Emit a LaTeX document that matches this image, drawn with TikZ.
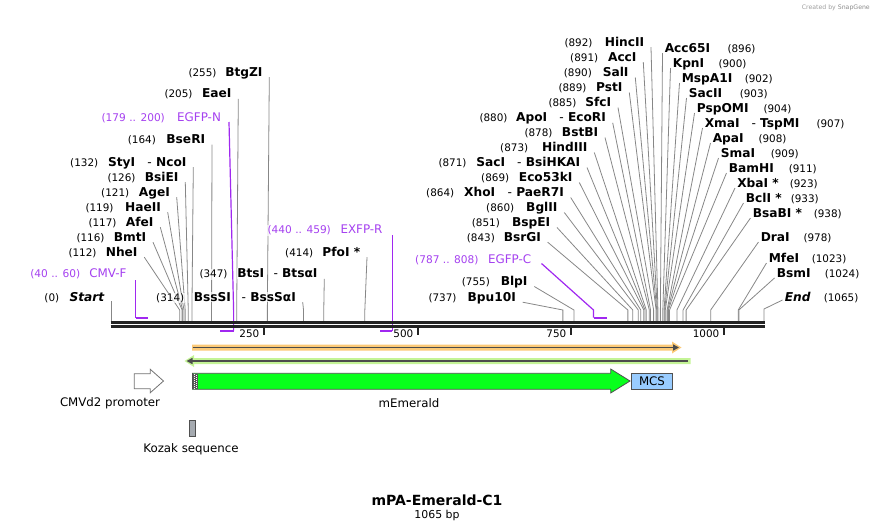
\documentclass[tikz,border=0pt]{standalone}
\usepackage{fontspec}
\setmainfont{DejaVu Sans}
\usetikzlibrary{arrows.meta,backgrounds}
\definecolor{primc}{RGB}{160,40,240}
\definecolor{primt}{RGB}{165,65,240}
\definecolor{sitec}{RGB}{135,135,135}
\definecolor{dnac}{RGB}{35,35,35}
\definecolor{orband}{RGB}{252,202,120}
\definecolor{grband}{RGB}{196,244,150}
\definecolor{emer}{RGB}{8,255,28}
\definecolor{mcsc}{RGB}{153,204,255}
\definecolor{kozc}{RGB}{165,170,176}
\definecolor{featb}{RGB}{80,80,80}
\newcommand\bx[1]{111+#1*0.61315}
\newcommand\lsite[2]{%
  \coordinate (t#1) at ({\bx{#2}},310);
  \coordinate (d#1) at ({\bx{#2}},321);
  \draw[site] ([shift={(6,1)}]#1.base east) -- (t#1) -- (d#1);}
\newcommand\rsite[2]{%
  \coordinate (t#1) at ({\bx{#2}},310);
  \coordinate (d#1) at ({\bx{#2}},321);
  \draw[site] ([shift={(-1.5,0.5)}]#1.base west) -- (t#1) -- (d#1);}
\begin{document}
\begin{tikzpicture}[x=1pt,y=-1pt,
  lbl/.style={inner sep=0.6pt, fill=white, fill opacity=0.7, text opacity=1},
  nm/.style={lbl, font=\fontsize{12.2}{14}\selectfont\bfseries},
  nmi/.style={lbl, font=\fontsize{12.2}{14}\selectfont\bfseries\itshape},
  num/.style={lbl, font=\fontsize{10.4}{12}\selectfont},
  pnm/.style={lbl, text=primt, font=\fontsize{11.9}{14}\selectfont},
  pnum/.style={lbl, text=primt, font=\fontsize{10.6}{12}\selectfont},
  site/.style={draw=sitec, line width=0.8pt},
  primer/.style={draw=primc, line width=1.2pt},
  bracket/.style={draw=primc, line width=2pt},
  feat/.style={font=\fontsize{11.8}{14}\selectfont},
  L/.style={anchor=base east},
  R/.style={anchor=base west},
]
\useasboundingbox (0,0) rectangle (876,531);

% ---------- left-hand labels (left group)
\node[num,L] (m255) at (217.3,76.2) {(255)};
\node[nm,L] (n255) at (263.3,76.2) {BtgZI};
\node[num,L] (m205) at (193.3,97.8) {(205)};
\node[nm,L] (n205) at (232.3,97.8) {EaeI};
\node[pnum,L] (mEN) at (165.7,121.2) {(179 .. 200)};
\node[pnm,L] (pEN) at (221.7,121.2) {EGFP-N};
\node[num,L] (m164) at (156.7,143.5) {(164)};
\node[nm,L] (n164) at (206,143.5) {BseRI};
\node[num,L] (m132) at (99,166.2) {(132)};
\node[nm,L] (a132) at (136,166.2) {StyI};
\node[nm,L] (n132) at (187.3,166.2) {\textmd{-} NcoI};
\node[num,L] (m126) at (136.3,181.2) {(126)};
\node[nm,L] (n126) at (179.3,181.2) {BsiEI};
\node[num,L] (m121) at (130,196.2) {(121)};
\node[nm,L] (n121) at (170.7,196.2) {AgeI};
\node[num,L] (m119) at (114.3,211.2) {(119)};
\node[nm,L] (n119) at (161.7,211.2) {HaeII};
\node[num,L] (m117) at (117.3,226.2) {(117)};
\node[nm,L] (n117) at (154.3,226.2) {AfeI};
\node[num,L] (m116) at (105.3,241.2) {(116)};
\node[nm,L] (n116) at (147,241.2) {BmtI};
\node[num,L] (m112) at (97.3,256.2) {(112)};
\node[nm,L] (n112) at (138.3,256.2) {NheI};
\node[pnum,L] (mCF) at (81,277.8) {(40 .. 60)};
\node[pnm,L] (pCF) at (127.3,277.8) {CMV-F};
\node[num,L] (m0) at (60,301.2) {(0)};
\node[nmi,L] (n0) at (105,301.2) {Start};
\node[num,L] (m314) at (185,301.2) {(314)};
\node[nm,L] (a314) at (231.7,301.2) {BssSI};
\node[nm,L] (n314) at (296.7,301.2) {\textmd{-} BssSαI};
\node[num,L] (m347) at (228.3,277.8) {(347)};
\node[nm,L] (a347) at (265,277.8) {BtsI};
\node[nm,L] (n347) at (318.3,277.8) {\textmd{-} BtsαI};
\node[num,L] (m414) at (314,256.2) {(414)};
\node[nm,L] (n414) at (361,256.2) {PfoI *};
\node[pnum,L] (mER) at (331.7,233.8) {(440 .. 459)};
\node[pnm,L] (pER) at (383.3,233.8) {EXFP-R};

% ---------- left-hand labels (right group)
\node[num,L] (m892) at (593.3,46.2) {(892)};
\node[nm,L] (n892) at (645,46.2) {HincII};
\node[num,L] (m891) at (599,61.2) {(891)};
\node[nm,L] (n891) at (637.3,61.2) {AccI};
\node[num,L] (m890) at (592.7,76.5) {(890)};
\node[nm,L] (n890) at (629.3,76.5) {SalI};
\node[num,L] (m889) at (587.3,91.5) {(889)};
\node[nm,L] (n889) at (623.3,91.5) {PstI};
\node[num,L] (m885) at (577.3,106.5) {(885)};
\node[nm,L] (n885) at (612,106.5) {SfcI};
\node[num,L] (m880) at (508.3,121.8) {(880)};
\node[nm,L] (a880) at (548,121.8) {ApoI};
\node[nm,L] (n880) at (606.7,121.8) {\textmd{-} EcoRI};
\node[num,L] (m878) at (553.3,136.5) {(878)};
\node[nm,L] (n878) at (599,136.5) {BstBI};
\node[num,L] (m873) at (529,151.5) {(873)};
\node[nm,L] (n873) at (588.3,151.5) {HindIII};
\node[num,L] (m871) at (467.3,166.5) {(871)};
\node[nm,L] (a871) at (506,166.5) {SacI};
\node[nm,L] (n871) at (581,166.5) {\textmd{-} BsiHKAI};
\node[num,L] (m869) at (510,181.5) {(869)};
\node[nm,L] (n869) at (573.3,181.5) {Eco53kI};
\node[num,L] (m864) at (455,196.5) {(864)};
\node[nm,L] (a864) at (496,196.5) {XhoI};
\node[nm,L] (n864) at (564.7,196.5) {\textmd{-} PaeR7I};
\node[num,L] (m860) at (515,211.5) {(860)};
\node[nm,L] (n860) at (558.3,211.5) {BglII};
\node[num,L] (m851) at (500.7,226.5) {(851)};
\node[nm,L] (n851) at (551,226.5) {BspEI};
\node[num,L] (m843) at (495.7,241.2) {(843)};
\node[nm,L] (n843) at (541.7,241.2) {BsrGI};
\node[pnum,L] (mEC) at (479.3,263.5) {(787 .. 808)};
\node[pnm,L] (pEC) at (532,263.5) {EGFP-C};
\node[num,L] (m755) at (490.7,285.5) {(755)};
\node[nm,L] (n755) at (528.3,285.5) {BlpI};
\node[num,L] (m737) at (457.3,301.2) {(737)};
\node[nm,L] (n737) at (516.7,301.2) {Bpu10I};

% ---------- right-hand labels
\node[nm,R] (n896) at (664,52.5) {Acc65I};
\node[num,R] (m896) at (726.7,52.5) {(896)};
\node[nm,R] (n900) at (672,67.5) {KpnI};
\node[num,R] (m900) at (717.7,67.5) {(900)};
\node[nm,R] (n902) at (681,82.5) {MspA1I};
\node[num,R] (m902) at (744,82.5) {(902)};
\node[nm,R] (n903) at (688,97.5) {SacII};
\node[num,R] (m903) at (739,97.5) {(903)};
\node[nm,R] (n904) at (696,112.5) {PspOMI};
\node[num,R] (m904) at (762.7,112.5) {(904)};
\node[nm,R] (n907) at (704,127.5) {XmaI};
\node[nm,R] (b907) at (750.7,127.5) {\textmd{-} TspMI};
\node[num,R] (m907) at (815.7,127.5) {(907)};
\node[nm,R] (n908) at (712,142.5) {ApaI};
\node[num,R] (m908) at (757.7,142.5) {(908)};
\node[nm,R] (n909) at (720,157.5) {SmaI};
\node[num,R] (m909) at (770,157.5) {(909)};
\node[nm,R] (n911) at (728,172.5) {BamHI};
\node[num,R] (m911) at (788,172.5) {(911)};
\node[nm,R] (n923) at (736.5,187.5) {XbaI *};
\node[num,R] (m923) at (789,187.5) {(923)};
\node[nm,R] (n933) at (745,202.5) {BclI *};
\node[num,R] (m933) at (790,202.5) {(933)};
\node[nm,R] (n938) at (752,217.5) {BsaBI *};
\node[num,R] (m938) at (813,217.5) {(938)};
\node[nm,R] (n978) at (760,241.5) {DraI};
\node[num,R] (m978) at (802.7,241.5) {(978)};
\node[nm,R] (n1023) at (768,262.5) {MfeI};
\node[num,R] (m1023) at (811,262.5) {(1023)};
\node[nm,R] (n1024) at (776,277.5) {BsmI};
\node[num,R] (m1024) at (824,277.5) {(1024)};
\node[nmi,R] (n1065) at (784,301.5) {End};
\node[num,R] (m1065) at (823,301.5) {(1065)};

% ---------- site lines and primers (behind labels)
\begin{pgfonlayer}{background}
\coordinate (t0) at (111,301);
\coordinate (d0) at (111,321);
\draw[site] (t0) -- (d0);
\lsite{n255}{255}
\lsite{n205}{205}
\lsite{n164}{164}
\lsite{n132}{132}
\lsite{n126}{126}
\lsite{n121}{121}
\lsite{n119}{119}
\lsite{n117}{117}
\lsite{n116}{116}
\lsite{n112}{112}
\lsite{n314}{314}
\lsite{n347}{347}
\lsite{n414}{414}
\lsite{n892}{892}
\lsite{n891}{891}
\lsite{n890}{890}
\lsite{n889}{889}
\lsite{n885}{885}
\lsite{n880}{880}
\lsite{n878}{878}
\lsite{n873}{873}
\lsite{n871}{871}
\lsite{n869}{869}
\lsite{n864}{864}
\lsite{n860}{860}
\lsite{n851}{851}
\lsite{n843}{843}
\lsite{n755}{755}
\lsite{n737}{737}
\rsite{n896}{896}
\rsite{n900}{900}
\rsite{n902}{902}
\rsite{n903}{903}
\rsite{n904}{904}
\rsite{n907}{907}
\rsite{n908}{908}
\rsite{n909}{909}
\rsite{n911}{911}
\rsite{n923}{923}
\rsite{n933}{933}
\rsite{n938}{938}
\rsite{n978}{978}
\rsite{n1023}{1023}
\rsite{n1024}{1024}
\coordinate (t1065) at (764,309);
\coordinate (d1065) at (764,321);
\draw[site] ([shift={(-1.5,-1.5)}]n1065.base west) -- (t1065) -- (d1065);
% primers
\coordinate (cfA) at (135.5,280);
\coordinate (cfB) at (135.5,317.5);
\coordinate (cfC) at (148,317.5);
\draw[primer] (cfA) -- (cfB);
\draw[bracket] (cfB) -- (cfC);
\coordinate (enA) at (229,122);
\coordinate (enB) at (233.6,310);
\coordinate (enC) at (233.6,330.5);
\coordinate (enD) at (220.2,330.5);
\draw[primer] (enA) -- (enB) -- (enC);
\draw[bracket] (enC) -- (enD);
\coordinate (erA) at (392.4,235);
\coordinate (erB) at (392.4,330.5);
\coordinate (erC) at (380.3,330.5);
\draw[primer] (erA) -- (erB);
\draw[bracket] (erB) -- (erC);
\coordinate (ecA) at (541.5,263.5);
\coordinate (ecB) at (593.5,310);
\coordinate (ecC) at (593.5,317.5);
\coordinate (ecD) at (606.8,317.5);
\draw[primer] (ecA) -- (ecB) -- (ecC);
\draw[bracket] (ecC) -- (ecD);
\end{pgfonlayer}

% ---------- DNA
\coordinate (dnaL1) at (110.5,322.3);
\coordinate (dnaR1) at (765,322.3);
\coordinate (dnaL2) at (110.5,326.4);
\coordinate (dnaR2) at (765,326.4);
\draw[dnac, line width=2.7pt] (dnaL1) -- (dnaR1);
\draw[dnac, line width=2.7pt] (dnaL2) -- (dnaR2);
\foreach \t/\x in {250/263.5,500/417.5,750/570.5,1000/723.5}{
  \draw[dnac, line width=2pt] (\x,328) -- (\x,334.5);
  \node[font=\fontsize{10.4}{12}\selectfont, anchor=east, inner sep=0pt] (tick\t) at (\x-4,334) {\t};
}

% ---------- features
\fill[orband] (192,344.5) -- (672,344.5) -- (672,341.5) -- (681.5,347.5) -- (672,353.5) -- (672,350.5) -- (192,350.5) -- cycle;
\coordinate (orA) at (192.5,347.5);
\coordinate (orB) at (679,347.5);
\draw[line width=1.6pt, black!70, -{Triangle[length=6pt,width=6pt]}] (orA) -- (orB);
\fill[grband] (690.5,358) -- (194,358) -- (194,355) -- (184.5,361) -- (194,367) -- (194,364) -- (690.5,364) -- cycle;
\coordinate (grA) at (688,361);
\coordinate (grB) at (186.5,361);
\draw[line width=1.6pt, black!70, -{Triangle[length=6pt,width=6pt]}] (grA) -- (grB);

\draw[featb!80, fill=white, line width=0.8pt] (134.3,373.8) -- (150.3,373.8) -- (150.3,369.3) -- (163.5,381) -- (150.3,392.7) -- (150.3,388.8) -- (134.3,388.8) -- cycle;
\node[feat] (cmvd2) at (110,403) {CMVd2 promoter};

\draw[featb, fill=emer, line width=0.8pt] (192.4,373.3) -- (610.7,373.3) -- (610.7,369) -- (630,381) -- (610.7,393) -- (610.7,389.3) -- (192.4,389.3) -- cycle;
\fill[black!65] (192.8,373.7) rectangle (198,388.9);
\draw[white, line width=0.7pt, dash pattern=on 1pt off 1pt] (194.6,374) -- (194.6,389);
\draw[white, line width=0.7pt, dash pattern=on 1pt off 1pt, dash phase=1pt] (196.6,374) -- (196.6,389);
\node[feat] (emlbl) at (409,403) {mEmerald};

\node[draw=featb, fill=mcsc, line width=0.8pt, minimum width=41.4pt, minimum height=16pt, inner sep=0pt, font=\fontsize{11.8}{14}\selectfont] (mcs) at (652,381.3) {MCS};

\draw[featb, fill=kozc, line width=0.8pt] (189.5,420.3) rectangle (195.7,436.5);
\node[feat] (kozak) at (191,449) {Kozak sequence};

% ---------- title
\node[font=\fontsize{14}{16}\selectfont\bfseries] (title) at (437,500.5) {mPA-Emerald-C1};
\node[font=\fontsize{10.9}{13}\selectfont] (size) at (437,515) {1065 bp};
\node[font=\fontsize{6.2}{7}\selectfont, text=black!38, anchor=east, inner sep=0pt] (wm) at (870,8) {Created by \textcolor{black!45}{SnapGene}};
\end{tikzpicture}
\end{document}
